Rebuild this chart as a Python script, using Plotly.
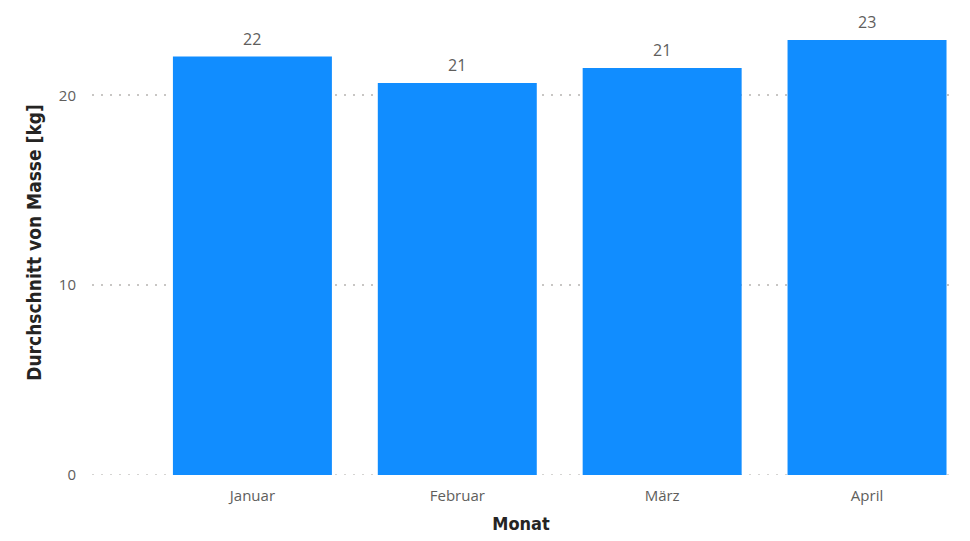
import plotly.graph_objects as go

# Durchschnittliche Masse pro Monat
monate = ["Januar", "Februar", "März", "April"]
masse_kg = [22.05, 20.65, 21.44, 22.92]
y_ticks = [0, 10, 20]

BAR_COLOR = "#118DFF"
TEXT_GRAY = "#605E5C"
TITLE_DARK = "#252423"
GRID_GRAY = "#C8C6C4"
LABEL_FONT = "Open Sans, sans-serif"
TITLE_FONT = "DejaVu Sans Condensed, sans-serif"
GRID_DASH = "2px,7px"

fig = go.Figure(
    go.Bar(
        x=monate,
        y=masse_kg,
        marker=dict(color=BAR_COLOR, line=dict(width=0)),
        width=0.776,
        cliponaxis=False,
    )
)

# Datenbeschriftungen über den Balken (gerundet)
for m, v in zip(monate, masse_kg):
    fig.add_annotation(
        x=m,
        y=v,
        text=f"{v:.0f}",
        showarrow=False,
        yanchor="bottom",
        yshift=5,
        font=dict(family=LABEL_FONT, size=16, color=TEXT_GRAY),
    )

# Gepunktete Grundlinie bei 0
fig.add_shape(
    type="line",
    xref="paper",
    yref="y",
    x0=0,
    x1=1,
    y0=0,
    y1=0,
    layer="below",
    line=dict(color=GRID_GRAY, width=1.5, dash=GRID_DASH),
)

fig.update_layout(
    width=970,
    height=541,
    margin=dict(l=92, r=20, t=10, b=66),
    paper_bgcolor="white",
    plot_bgcolor="white",
    showlegend=False,
    xaxis=dict(
        type="category",
        range=[-0.783, 3.405],
        showgrid=False,
        showline=False,
        zeroline=False,
        tickfont=dict(family=LABEL_FONT, size=15, color=TEXT_GRAY),
        ticks="outside",
        ticklen=7,
        tickcolor="rgba(0,0,0,0)",
        title=dict(
            text="<b>Monat</b>",
            font=dict(family=TITLE_FONT, size=18, color=TITLE_DARK),
            standoff=13,
        ),
    ),
    yaxis=dict(
        range=[0, 24.5],
        tickvals=y_ticks,
        showgrid=True,
        gridcolor=GRID_GRAY,
        griddash=GRID_DASH,
        gridwidth=1.5,
        zeroline=False,
        showline=False,
        tickfont=dict(family=LABEL_FONT, size=15, color=TEXT_GRAY),
        ticks="outside",
        ticklen=12,
        tickcolor="rgba(0,0,0,0)",
        title=dict(
            text="<b>Durchschnitt von Masse [kg]</b>",
            font=dict(family=TITLE_FONT, size=19, color=TITLE_DARK),
            standoff=12,
        ),
    ),
)

fig.write_html("out.html")
